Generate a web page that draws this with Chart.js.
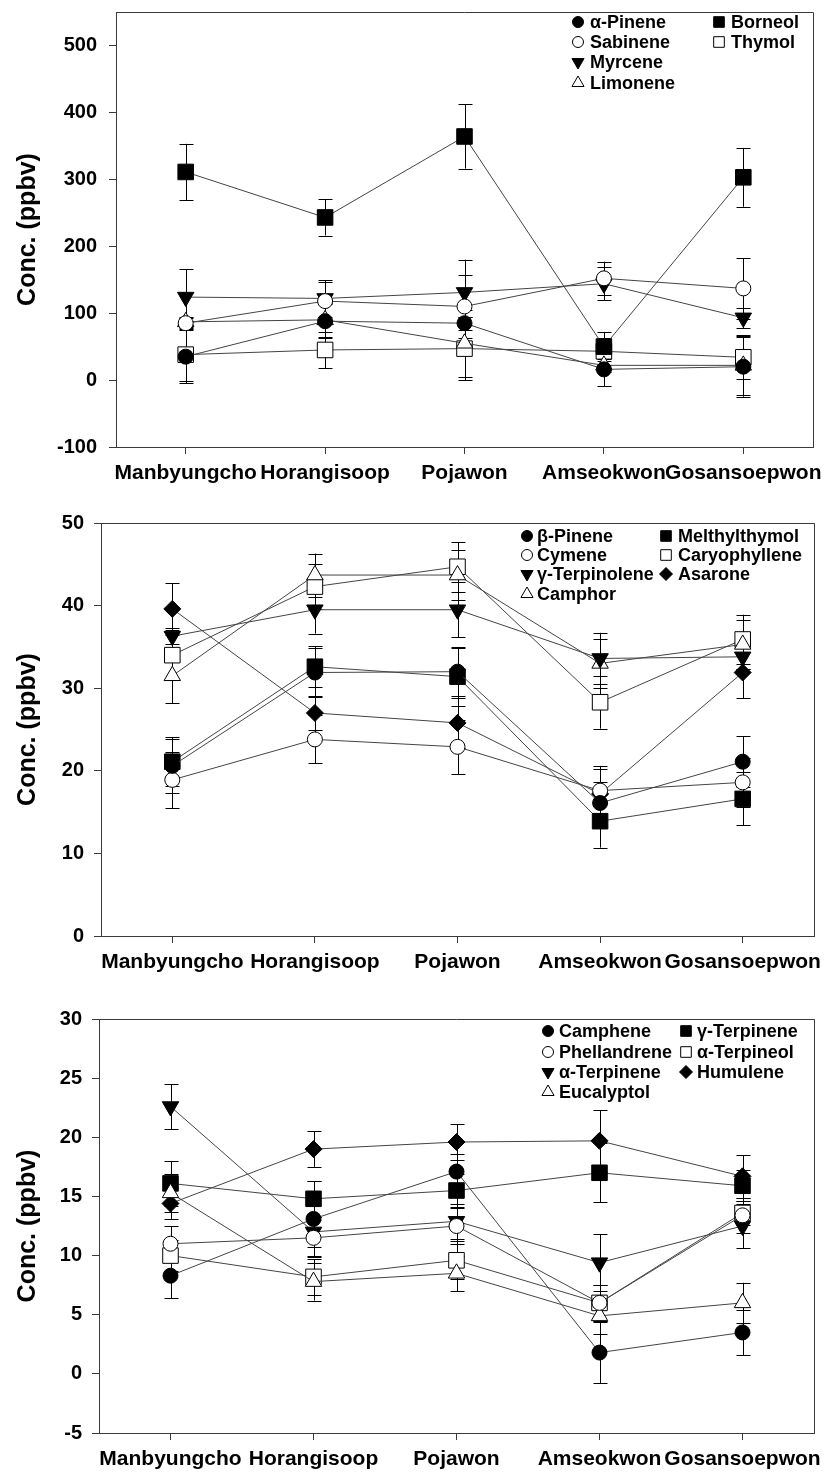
<!DOCTYPE html>
<html>
<head>
<meta charset="utf-8">
<script src="https://cdn.jsdelivr.net/npm/chart.js@4/dist/chart.umd.min.js"></script>
<style>
  body { margin: 0; background: #fff; }
  #wrap { position: relative; width: 826px; height: 1473px; }
  canvas { position: absolute; left: 0; }
</style>
</head>
<body>
<div id="wrap">
  <canvas id="c1" width="826" height="490" style="top:0px"></canvas>
  <canvas id="c2" width="826" height="490" style="top:490px"></canvas>
  <canvas id="c3" width="826" height="493" style="top:980px"></canvas>
</div>
<script>
// sampling sites (x categories)
const sites = ['Manbyungcho', 'Horangisoop', 'Pojawon', 'Amseokwon', 'Gosansoepwon'];

// panel 1 values (ppbv) and error bars
const alphaPinene = [35, 88, 85, 16, 20];
const alphaPineneErr = [40, 25, 10, 25, 45];
const sabinene = [85, 118, 110, 152, 137];
const sabineneErr = [8, 28, 47, 25, 45];
const myrcene = [124, 122, 131, 144, 93];
const myrceneErr = [42, 27, 49, 25, 15];
const limonene = [87, 90, 55, 22, 22];
const limoneneErr = [8, 25, 50, 10, 45];
const borneol = [311, 243, 364, 50, 303];
const borneolErr = [42, 27, 48, 22, 44];
const thymol = [38, 45, 47, 43, 34];
const thymolErr = [40, 27, 47, 20, 32];
const yTicks1 = [-100, 0, 100, 200, 300, 400, 500];

// panel 2
const betaPinene = [20.6, 31.9, 32.0, 16.1, 21.1];
const betaPineneErr = [3.3, 3.0, 3.0, 2.5, 3.1];
const cymene = [18.9, 23.8, 22.9, 17.6, 18.6];
const cymeneErr = [3.4, 2.9, 3.3, 3.0, 3.0];
const gammaTerpinolene = [36.3, 39.5, 39.5, 33.6, 33.8];
const gammaTerpinoleneErr = [1.0, 2.9, 3.3, 3.1, 1.5];
const camphor = [31.5, 43.7, 43.7, 33.0, 35.3];
const camphorErr = [3.3, 2.6, 3.0, 3.0, 3.0];
const melthylthymol = [21.1, 32.6, 31.4, 13.9, 16.6];
const melthylthymolErr = [3.0, 2.5, 3.5, 3.2, 3.2];
const caryophyllene = [34.0, 42.3, 44.7, 28.3, 35.9];
const caryophylleneErr = [3.0, 2.7, 3.0, 3.2, 3.0];
const asarone = [39.6, 27.0, 25.8, 17.2, 31.9];
const asaroneErr = [3.1, 2.0, 3.0, 3.0, 3.1];
const yTicks2 = [0, 10, 20, 30, 40, 50];

// panel 3
const camphene = [8.3, 13.1, 17.1, 1.8, 3.5];
const campheneErr = [1.9, 3.2, 1.5, 2.6, 1.9];
const phellandrene = [11.0, 11.5, 12.5, 6.0, 13.4];
const phellandreneErr = [1.5, 1.5, 1.5, 1.5, 1.5];
const alphaTerpinene = [22.6, 12.0, 12.9, 9.4, 12.5];
const alphaTerpineneErr = [1.9, 1.3, 1.5, 2.4, 1.9];
const eucalyptol = [15.3, 7.8, 8.5, 4.9, 6.0];
const eucalyptolErr = [1.6, 1.6, 1.5, 1.5, 1.7];
const gammaTerpinene = [16.1, 14.8, 15.5, 17.0, 15.9];
const gammaTerpineneErr = [1.9, 1.5, 1.4, 2.5, 1.3];
const alphaTerpineol = [10.0, 8.2, 9.6, 6.0, 13.6];
const alphaTerpineolErr = [1.3, 1.5, 1.6, 1.5, 1.0];
const humulene = [14.4, 19.0, 19.6, 19.7, 16.7];
const humuleneErr = [1.3, 1.5, 1.5, 2.6, 1.8];
const yTicks3 = [-5, 0, 5, 10, 15, 20, 25, 30];

const FONT = "'Liberation Sans', Arial, sans-serif";
const AXIS = '#3a3a3a';

// marker looks (data size, legend size)
const markers = {
    dot:     { pointStyle: 'circle',   rotation: 0,   fill: '#000', r: 7.5, lr: 5.5 },
    ring:    { pointStyle: 'circle',   rotation: 0,   fill: '#fff', r: 7.5, lr: 5.5 },
    down:    { pointStyle: 'triangle', rotation: 180, fill: '#000', r: 9.5, lr: 7 },
    up:      { pointStyle: 'triangle', rotation: 0,   fill: '#fff', r: 9.5, lr: 7 },
    square:  { pointStyle: 'rect',     rotation: 0,   fill: '#000', r: 11,  lr: 7.5 },
    box:     { pointStyle: 'rect',     rotation: 0,   fill: '#fff', r: 11,  lr: 7.5 },
    diamond: { pointStyle: 'rectRot',  rotation: 0,   fill: '#000', r: 8.5, lr: 6.5 }
};

function series(label, values, errors, mk) {
    const m = markers[mk];
    return {
        label: label,
        data: values,
        errors: errors,
        marker: mk,
        borderColor: '#444',
        borderWidth: 1,
        pointStyle: m.pointStyle,
        pointRotation: m.rotation,
        pointRadius: m.r,
        pointBackgroundColor: m.fill,
        pointBorderColor: '#000',
        pointBorderWidth: 1,
        fill: false,
        tension: 0
    };
}

const errorBars = {
    id: 'errorBars',
    beforeDatasetsDraw(chart) {
        const ctx = chart.ctx;
        const y = chart.scales.y;
        ctx.save();
        ctx.strokeStyle = '#000';
        ctx.lineWidth = 1;
        chart.data.datasets.forEach((ds, i) => {
            const meta = chart.getDatasetMeta(i);
            meta.data.forEach((pt, j) => {
                const e = ds.errors[j];
                const top = y.getPixelForValue(ds.data[j] + e);
                const bot = y.getPixelForValue(ds.data[j] - e);
                const x = Math.round(pt.x) + 0.5;
                ctx.beginPath();
                ctx.moveTo(x, top); ctx.lineTo(x, bot);
                ctx.moveTo(x - 7, Math.round(top) + 0.5); ctx.lineTo(x + 7, Math.round(top) + 0.5);
                ctx.moveTo(x - 7, Math.round(bot) + 0.5); ctx.lineTo(x + 7, Math.round(bot) + 0.5);
                ctx.stroke();
            });
        });
        ctx.restore();
    }
};

const frame = {
    id: 'frame',
    afterDraw(chart) {
        const a = chart.chartArea;
        const ctx = chart.ctx;
        ctx.save();
        ctx.strokeStyle = AXIS;
        ctx.lineWidth = 1;
        ctx.beginPath();
        ctx.moveTo(Math.round(a.left), Math.round(a.top) + 0.5);
        ctx.lineTo(Math.round(a.right) + 0.5, Math.round(a.top) + 0.5);
        ctx.lineTo(Math.round(a.right) + 0.5, Math.round(a.bottom));
        ctx.stroke();
        ctx.restore();
    }
};

const boxLegend = {
    id: 'boxLegend',
    afterDraw(chart, args, opts) {
        const ctx = chart.ctx;
        ctx.save();
        ctx.font = 'bold 18px ' + FONT;
        ctx.textBaseline = 'middle';
        ctx.textAlign = 'left';
        chart.data.datasets.forEach((ds, i) => {
            const col = i < 4 ? 0 : 1;
            const row = i < 4 ? i : i - 4;
            const mx = opts.markerX[col];
            const tx = opts.textX[col];
            const ty = opts.rowY[row];
            const m = markers[ds.marker];
            ctx.fillStyle = m.fill;
            ctx.strokeStyle = '#000';
            ctx.lineWidth = 1;
            Chart.helpers.drawPoint(ctx, { pointStyle: m.pointStyle, rotation: m.rotation, radius: m.lr, borderWidth: 1 }, mx, ty);
            ctx.fillStyle = '#000';
            ctx.fillText(ds.label, tx, ty + 1);
        });
        ctx.restore();
    }
};

function makePanel(id, datasets, yMin, yMax, yTicks, geo) {
    new Chart(document.getElementById(id), {
        type: 'line',
        data: { labels: sites, datasets: datasets },
        plugins: [errorBars, frame, boxLegend],
        options: {
            responsive: false,
            animation: false,
            devicePixelRatio: 1,
            layout: { padding: { left: 0, top: geo.top, right: geo.right, bottom: 0 } },
            scales: {
                x: {
                    type: 'category',
                    offset: true,
                    grid: { display: true, drawOnChartArea: false, drawTicks: true, tickLength: 7, color: AXIS },
                    border: { display: true, color: AXIS, width: 1 },
                    ticks: { color: '#000', font: { family: FONT, size: 21, weight: 'bold' }, padding: 7, maxRotation: 0, autoSkip: false },
                    afterFit: s => { s.height = geo.xh; s.paddingLeft = 0; s.paddingRight = 0; }
                },
                y: {
                    min: yMin,
                    max: yMax,
                    grid: { display: true, drawOnChartArea: false, drawTicks: true, tickLength: 7, color: AXIS },
                    border: { display: true, color: AXIS, width: 1 },
                    ticks: { color: '#000', font: { family: FONT, size: 20, weight: 'bold' }, padding: geo.tp },
                    afterBuildTicks: s => { s.ticks = yTicks.map(v => ({ value: v })); },
                    afterFit: s => { s.width = geo.yw; s.paddingTop = 0; s.paddingBottom = 0; },
                    title: { display: true, text: 'Conc. (ppbv)', color: '#000', font: { family: FONT, size: 25, weight: 'bold' }, padding: { top: 13, bottom: 0 } }
                }
            },
            plugins: {
                legend: { display: false },
                tooltip: { enabled: false },
                boxLegend: geo.legend
            }
        }
    });
}

makePanel('c1', [
    series('α-Pinene', alphaPinene, alphaPineneErr, 'dot'),
    series('Sabinene', sabinene, sabineneErr, 'ring'),
    series('Myrcene', myrcene, myrceneErr, 'down'),
    series('Limonene', limonene, limoneneErr, 'up'),
    series('Borneol', borneol, borneolErr, 'square'),
    series('Thymol', thymol, thymolErr, 'box')
], -100, 550, yTicks1, {
    top: 8, right: 13, xh: 43, yw: 116, tp: 12,
    legend: { markerX: [578, 719], textX: [590, 731], rowY: [22, 42, 62, 83] }
});

makePanel('c2', [
    series('β-Pinene', betaPinene, betaPineneErr, 'dot'),
    series('Cymene', cymene, cymeneErr, 'ring'),
    series('γ-Terpinolene', gammaTerpinolene, gammaTerpinoleneErr, 'down'),
    series('Camphor', camphor, camphorErr, 'up'),
    series('Melthylthymol', melthylthymol, melthylthymolErr, 'square'),
    series('Caryophyllene', caryophyllene, caryophylleneErr, 'box'),
    series('Asarone', asarone, asaroneErr, 'diamond')
], 0, 50, yTicks2, {
    top: 33, right: 6, xh: 44, yw: 101, tp: 10,
    legend: { markerX: [527, 666], textX: [537, 678], rowY: [46, 65, 84, 104] }
});

makePanel('c3', [
    series('Camphene', camphene, campheneErr, 'dot'),
    series('Phellandrene', phellandrene, phellandreneErr, 'ring'),
    series('α-Terpinene', alphaTerpinene, alphaTerpineneErr, 'down'),
    series('Eucalyptol', eucalyptol, eucalyptolErr, 'up'),
    series('γ-Terpinene', gammaTerpinene, gammaTerpineneErr, 'square'),
    series('α-Terpineol', alphaTerpineol, alphaTerpineolErr, 'box'),
    series('Humulene', humulene, humuleneErr, 'diamond')
], -5, 30, yTicks3, {
    top: 39, right: 11, xh: 40, yw: 99, tp: 10,
    legend: { markerX: [548, 686], textX: [559, 697], rowY: [51, 72, 92, 112] }
});
</script>
</body>
</html>
